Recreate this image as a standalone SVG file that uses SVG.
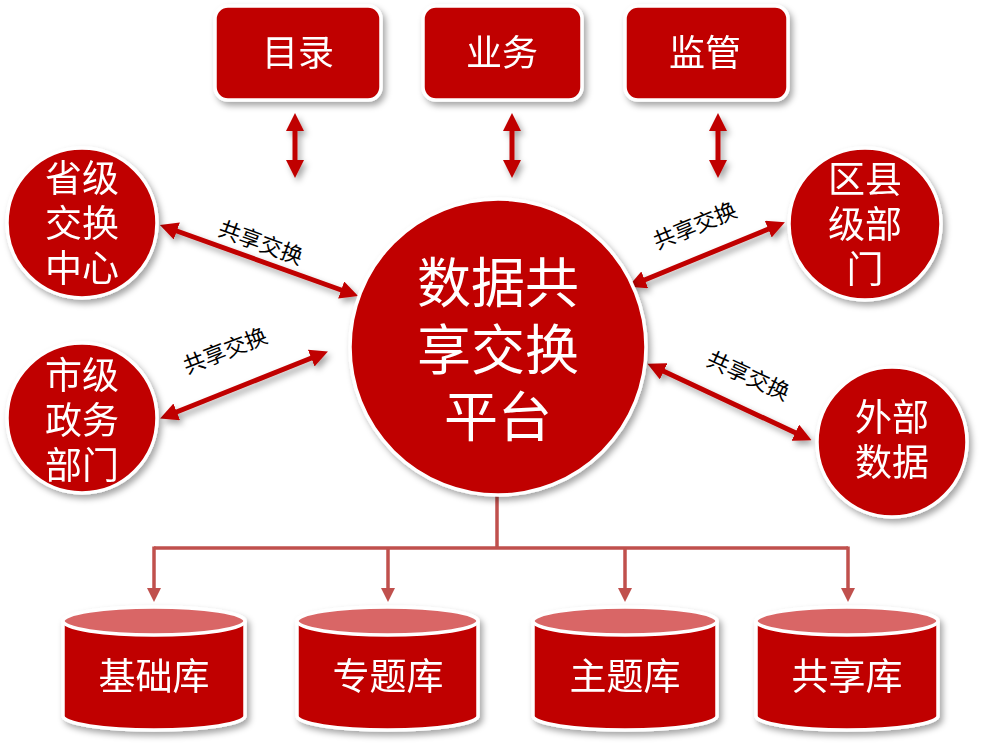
<svg xmlns="http://www.w3.org/2000/svg" width="983" height="747" viewBox="0 0 983 747">
<style>
.node{fill:#C00000;stroke:#FFFFFF;stroke-width:3.5}
.top{fill:#D96666;stroke:#FFFFFF;stroke-width:3.5}
.wt{fill:#FFFFFF;font-family:"Noto Sans CJK SC","Noto Sans",sans-serif;text-anchor:middle}
.lbl{fill:#000000;font-family:"Noto Sans CJK SC","Noto Sans",sans-serif;font-size:22px;text-anchor:middle}
.arr{stroke:#C00000;stroke-width:5;fill:none}
.con{stroke:#C0504D;stroke-width:3.5;fill:none}
</style>
<defs>
<filter id="sh" x="-20%" y="-20%" width="150%" height="150%">
<feDropShadow dx="3" dy="4" stdDeviation="3" flood-color="#000000" flood-opacity="0.35"/>
</filter>
<marker id="ah" viewBox="0 0 18 18" markerWidth="18" markerHeight="18" refX="3" refY="9" orient="auto-start-reverse" markerUnits="userSpaceOnUse">
<path d="M0,0 L18,9 L0,18 z" fill="#C00000"/>
</marker>
<marker id="ah2" viewBox="0 0 14 14" markerWidth="14" markerHeight="14" refX="2" refY="7" orient="auto" markerUnits="userSpaceOnUse">
<path d="M0,0 L14,7 L0,14 z" fill="#C0504D"/>
</marker>
</defs>
<rect width="983" height="747" fill="#FFFFFF"/>

<g id="connectors">
<g filter="url(#sh)">
<line class="arr" x1="295" y1="128" x2="295" y2="163" marker-start="url(#ah)" marker-end="url(#ah)"/>
<line class="arr" x1="512" y1="128" x2="512" y2="163" marker-start="url(#ah)" marker-end="url(#ah)"/>
<line class="arr" x1="718" y1="128" x2="718" y2="163" marker-start="url(#ah)" marker-end="url(#ah)"/>
<line class="arr" x1="174" y1="230" x2="344" y2="291" marker-start="url(#ah)" marker-end="url(#ah)"/>
<line class="arr" x1="174" y1="413" x2="314" y2="357" marker-start="url(#ah)" marker-end="url(#ah)"/>
<line class="arr" x1="771" y1="228" x2="642" y2="281" marker-start="url(#ah)" marker-end="url(#ah)"/>
<line class="arr" x1="661" y1="370" x2="798" y2="434" marker-start="url(#ah)" marker-end="url(#ah)"/>
</g>
<path class="con" d="M497,494 V548 M154,548 H848"/>
<line class="con" x1="154" y1="546.5" x2="154" y2="590" marker-end="url(#ah2)"/>
<line class="con" x1="388" y1="548" x2="388" y2="590" marker-end="url(#ah2)"/>
<line class="con" x1="625" y1="548" x2="625" y2="590" marker-end="url(#ah2)"/>
<line class="con" x1="848" y1="546.5" x2="848" y2="590" marker-end="url(#ah2)"/>
<text class="lbl" transform="translate(258,250) rotate(20)">共享交换</text>
<text class="lbl" transform="translate(228,358) rotate(-21.5)">共享交换</text>
<text class="lbl" transform="translate(698,233) rotate(-22.5)">共享交换</text>
<text class="lbl" transform="translate(745,383) rotate(24.5)">共享交换</text>
</g>

<g id="node-mulu" filter="url(#sh)">
<rect class="node" x="215" y="6" width="166" height="94" rx="13"/>
<text class="wt" x="298" y="66" font-size="36">目录</text>
</g>
<g id="node-yewu" filter="url(#sh)">
<rect class="node" x="423" y="6" width="159" height="94" rx="13"/>
<text class="wt" x="502" y="66" font-size="36">业务</text>
</g>
<g id="node-jianguan" filter="url(#sh)">
<rect class="node" x="625" y="6" width="163" height="94" rx="13"/>
<text class="wt" x="705" y="66" font-size="36">监管</text>
</g>

<g id="node-center" filter="url(#sh)">
<circle class="node" cx="498" cy="347" r="148"/>
<text class="wt" font-size="54"><tspan x="498" y="303">数据共</tspan><tspan x="498" y="370">享交换</tspan><tspan x="498" y="437">平台</tspan></text>
</g>

<g id="node-shengji" filter="url(#sh)">
<circle class="node" cx="82" cy="223" r="75"/>
<text class="wt" font-size="37"><tspan x="82" y="192">省级</tspan><tspan x="82" y="237">交换</tspan><tspan x="82" y="282">中心</tspan></text>
</g>
<g id="node-shiji" filter="url(#sh)">
<circle class="node" cx="82" cy="418" r="75"/>
<text class="wt" font-size="37"><tspan x="82" y="389">市级</tspan><tspan x="82" y="434">政务</tspan><tspan x="82" y="479">部门</tspan></text>
</g>
<g id="node-quxian" filter="url(#sh)">
<circle class="node" cx="865" cy="224" r="76"/>
<text class="wt" font-size="37"><tspan x="865" y="193">区县</tspan><tspan x="865" y="238">级部</tspan><tspan x="865" y="283">门</tspan></text>
</g>
<g id="node-waibu" filter="url(#sh)">
<circle class="node" cx="892" cy="442" r="75"/>
<text class="wt" font-size="37"><tspan x="892" y="431">外部</tspan><tspan x="892" y="476">数据</tspan></text>
</g>

<g id="db-jichu" filter="url(#sh)">
<path class="node" d="M63,621 V716 A91,14 0 0 0 245,716 V621"/>
<ellipse class="top" cx="154" cy="621" rx="91" ry="14"/>
<text class="wt" x="154" y="690" font-size="37">基础库</text>
</g>
<g id="db-zhuanti" filter="url(#sh)">
<path class="node" d="M297,621 V716 A90.5,14 0 0 0 478,716 V621"/>
<ellipse class="top" cx="387.5" cy="621" rx="90.5" ry="14"/>
<text class="wt" x="388" y="690" font-size="37">专题库</text>
</g>
<g id="db-zhuti" filter="url(#sh)">
<path class="node" d="M533,621 V716 A92,14 0 0 0 717,716 V621"/>
<ellipse class="top" cx="625" cy="621" rx="92" ry="14"/>
<text class="wt" x="625" y="690" font-size="37">主题库</text>
</g>
<g id="db-gongxiang" filter="url(#sh)">
<path class="node" d="M756,621 V716 A91,14 0 0 0 938,716 V621"/>
<ellipse class="top" cx="847" cy="621" rx="91" ry="14"/>
<text class="wt" x="847" y="690" font-size="37">共享库</text>
</g>
</svg>
